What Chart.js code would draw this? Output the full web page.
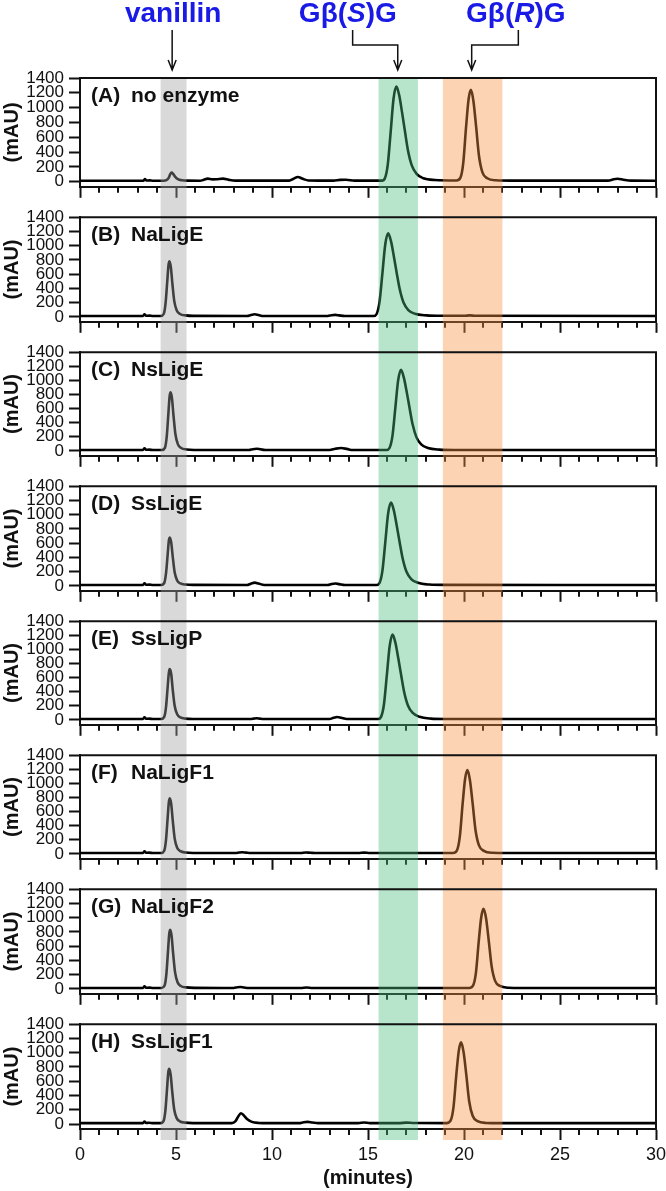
<!DOCTYPE html>
<html>
<head>
<meta charset="utf-8">
<script src="https://cdn.jsdelivr.net/npm/chart.js@4.4.1/dist/chart.umd.min.js"></script>
<style>
  body { margin: 0; background: #fff; }
  #wrap { position: relative; width: 666px; height: 1191px; overflow: hidden; }
  #wrap canvas { position: absolute; left: 0; }
</style>
</head>
<body>
<div id="wrap"></div>
<script>
// Panel letters and sample names
const panelLetters = ['A', 'B', 'C', 'D', 'E', 'F', 'G', 'H']
const panelNames = ['no enzyme', 'NaLigE', 'NsLigE', 'SsLigE', 'SsLigP', 'NaLigF1', 'NaLigF2', 'SsLigF1']

// Axis ticks
const yTicks = [0, 200, 400, 600, 800, 1000, 1200, 1400]
const xLabelTicks = [0, 5, 10, 15, 20, 25, 30]

// Retention windows (minutes): vanillin, G-beta(S)-G, G-beta(R)-G
const bandRanges = [[4.2, 5.55], [15.55, 17.6], [18.9, 22.0]]

// Header labels: text parts [text, italic], arrow tip and elbow start (minutes)
const headerParts = [
  [['vanillin', 0]],
  [['G\u03b2(', 0], ['S', 1], [')G', 0]],
  [['G\u03b2(', 0], ['R', 1], [')G', 0]],
]
const headerCenter = [4.85, 13.95, 22.7]
const arrowTip = [4.8, 16.55, 20.4]
const arrowElbow = [null, 14.2, 22.83]

// Chromatograms, [minutes, mAU]
const traceA = [
  [0, 12], [3.3, 12], [3.38, 36], [3.46, 15], [3.62, 17], [3.8, 12],
  [4.35, 12], [4.5, 20], [4.62, 50], [4.7, 100], [4.77, 122], [4.85, 105], [4.95, 68], [5.1, 33], [5.3, 19], [5.6, 13],
  [6.25, 12], [6.45, 25], [6.65, 40], [6.9, 30], [7.1, 32], [7.45, 40], [7.75, 24], [8.1, 13],
  [10.9, 13], [11.1, 35], [11.35, 62], [11.6, 38], [11.9, 16],
  [13.2, 13], [13.55, 24], [13.85, 25], [14.3, 14],
  [15.73, 13], [15.88, 45], [16.03, 230], [16.18, 670], [16.33, 1120], [16.48, 1285], [16.63, 1160], [16.78, 925],
  [16.93, 670], [17.08, 425], [17.28, 220], [17.53, 105], [17.88, 45], [18.48, 22],
  [19.61, 16], [19.81, 50], [19.96, 250], [20.11, 745], [20.24, 1115], [20.36, 1240], [20.49, 1090], [20.63, 745],
  [20.78, 350], [20.96, 125], [21.21, 45], [21.66, 18], [22.5, 13],
  [27.5, 13], [27.8, 32], [28.0, 38], [28.3, 25], [28.7, 13], [30, 12],
]
const traceB = [
  [0, 12], [3.28, 12], [3.36, 36], [3.44, 15], [3.6, 17], [3.8, 12],
  [4.2, 12], [4.36, 40], [4.46, 200], [4.54, 480], [4.61, 730], [4.66, 780], [4.73, 700], [4.81, 470], [4.91, 220],
  [5.04, 90], [5.21, 40], [5.5, 20], [5.9, 13],
  [8.7, 12], [8.9, 25], [9.1, 36], [9.3, 25], [9.55, 12],
  [12.9, 12], [13.1, 22], [13.3, 27], [13.5, 20], [13.8, 12],
  [15.3, 12], [15.45, 40], [15.6, 210], [15.75, 610], [15.9, 1020], [16.05, 1175], [16.2, 1060], [16.35, 845],
  [16.5, 610], [16.65, 390], [16.85, 200], [17.1, 95], [17.45, 42], [18.05, 20], [18.8, 14],
  [20.0, 14], [20.3, 20], [20.6, 14], [30, 12],
]
const traceC = [
  [0, 12], [3.28, 12], [3.36, 36], [3.44, 15], [3.6, 17], [3.8, 12],
  [4.27, 12], [4.42, 42], [4.52, 210], [4.6, 515], [4.67, 780], [4.72, 830], [4.79, 745], [4.87, 500], [4.97, 235],
  [5.1, 92], [5.27, 40], [5.55, 20], [5.95, 13],
  [8.8, 12], [9.0, 24], [9.2, 30], [9.4, 22], [9.65, 12],
  [13.0, 12], [13.3, 30], [13.6, 40], [13.9, 28], [14.2, 12],
  [15.97, 12], [16.12, 40], [16.27, 205], [16.42, 600], [16.57, 1000], [16.72, 1150], [16.87, 1035], [17.02, 830],
  [17.17, 600], [17.32, 380], [17.52, 195], [17.77, 92], [18.12, 40], [18.72, 18], [19.5, 13], [30, 12],
]
const traceD = [
  [0, 12], [3.28, 12], [3.36, 36], [3.44, 15], [3.6, 17], [3.8, 12],
  [4.23, 12], [4.38, 36], [4.48, 175], [4.56, 420], [4.63, 640], [4.68, 680], [4.75, 610], [4.83, 410], [4.93, 190],
  [5.06, 75], [5.23, 33], [5.5, 18], [5.9, 13],
  [8.7, 12], [8.9, 30], [9.1, 45], [9.3, 32], [9.6, 12],
  [12.9, 12], [13.1, 25], [13.3, 32], [13.5, 24], [13.8, 12],
  [15.45, 12], [15.6, 40], [15.75, 210], [15.9, 610], [16.05, 1020], [16.2, 1170], [16.35, 1055], [16.5, 840],
  [16.65, 610], [16.8, 390], [17.0, 200], [17.25, 95], [17.6, 42], [18.2, 18], [19.0, 13], [30, 12],
]
const traceE = [
  [0, 12], [3.28, 12], [3.36, 36], [3.44, 15], [3.6, 17], [3.8, 12],
  [4.23, 12], [4.38, 38], [4.48, 180], [4.56, 445], [4.63, 675], [4.68, 720], [4.75, 650], [4.83, 430], [4.93, 200],
  [5.06, 80], [5.23, 35], [5.5, 18], [5.9, 13],
  [8.9, 12], [9.05, 18], [9.2, 22], [9.35, 18], [9.55, 12],
  [13.0, 12], [13.2, 30], [13.4, 40], [13.6, 30], [13.9, 12],
  [15.53, 12], [15.68, 42], [15.83, 218], [15.98, 630], [16.13, 1050], [16.28, 1210], [16.43, 1090], [16.58, 870],
  [16.73, 630], [16.88, 400], [17.08, 205], [17.33, 98], [17.68, 43], [18.28, 18], [19.0, 13], [30, 12],
]
const traceF = [
  [0, 12], [3.28, 12], [3.36, 36], [3.44, 15], [3.6, 17], [3.8, 12],
  [4.23, 12], [4.38, 40], [4.48, 200], [4.56, 490], [4.63, 740], [4.68, 790], [4.75, 710], [4.83, 475], [4.93, 220],
  [5.06, 88], [5.23, 38], [5.5, 19], [5.9, 13],
  [8.1, 12], [8.3, 20], [8.45, 22], [8.65, 17], [8.9, 12],
  [11.5, 12], [11.75, 20], [12.0, 16], [12.3, 12],
  [14.5, 12], [14.8, 18], [15.1, 12],
  [19.43, 12], [19.63, 48], [19.78, 240], [19.93, 715], [20.06, 1070], [20.18, 1190], [20.31, 1045], [20.45, 715],
  [20.6, 335], [20.78, 120], [21.03, 43], [21.48, 15], [22.2, 12], [30, 12],
]
const traceG = [
  [0, 12], [3.28, 12], [3.36, 36], [3.44, 15], [3.6, 17], [3.8, 12],
  [4.25, 12], [4.4, 42], [4.5, 210], [4.58, 515], [4.65, 780], [4.7, 830], [4.77, 745], [4.85, 500], [4.95, 235],
  [5.08, 92], [5.25, 40], [5.53, 20], [5.95, 13],
  [8.0, 12], [8.2, 22], [8.35, 25], [8.55, 18], [8.8, 12],
  [11.5, 12], [11.8, 18], [12.1, 12],
  [20.27, 12], [20.47, 45], [20.62, 225], [20.77, 675], [20.9, 1010], [21.02, 1125], [21.15, 990], [21.29, 675],
  [21.44, 315], [21.62, 112], [21.87, 40], [22.32, 15], [23.0, 12], [30, 12],
]
const traceH = [
  [0, 12], [3.28, 12], [3.36, 36], [3.44, 15], [3.6, 17], [3.8, 12],
  [4.2, 12], [4.35, 40], [4.45, 195], [4.53, 480], [4.6, 730], [4.65, 775], [4.72, 695], [4.8, 465], [4.9, 215],
  [5.03, 86], [5.2, 38], [5.48, 19], [5.9, 13],
  [7.9, 12], [8.1, 40], [8.25, 110], [8.38, 150], [8.5, 130], [8.7, 70], [8.95, 30], [9.3, 15], [9.8, 12],
  [11.4, 12], [11.65, 25], [11.85, 30], [12.1, 22], [12.4, 12],
  [14.5, 12], [14.8, 22], [15.1, 13],
  [16.6, 13], [17.0, 20], [17.4, 14],
  [19.1, 12], [19.3, 46], [19.45, 230], [19.6, 690], [19.73, 1030], [19.85, 1145], [19.98, 1005], [20.12, 690],
  [20.27, 320], [20.45, 115], [20.7, 40], [21.15, 15], [21.8, 12], [30, 12],
]
const traces = [traceA, traceB, traceC, traceD, traceE, traceF, traceG, traceH]

// Styling
const ink = '#111'
const family = '"Liberation Sans", Arial, Helvetica, sans-serif'
const bandFill = ['rgba(160,160,160,0.4)', 'rgba(75,190,125,0.4)', 'rgba(250,148,65,0.4)']
const headerBlue = '#1a1ae6'
Chart.defaults.font.family = family
Chart.defaults.color = ink

// Layout: each panel gets its own canvas
const firstTop = 78
const pitch = 134.4
const plotHeight = 110
const tickLen = 11
const minorLen = 6
const lastIdx = panelLetters.length - 1
const panelTops = panelLetters.map((_, k) => Math.round(firstTop + pitch * k))
const canvasTops = panelTops.map((t, k) => k === 0 ? 0 : t - 10)

const isMajor = (v) => xLabelTicks.includes(v)

// Bands, frame, minor ticks, panel label, and header arrows
const decor = {
  id: 'decor',
  afterDraw(chart, args, opts) {
    const k = opts.index
    const {ctx, chartArea: a} = chart
    const x = chart.scales.x
    ctx.save()

    // minor x ticks are shorter than the major ones
    ctx.strokeStyle = ink
    ctx.lineWidth = 2
    ctx.beginPath()
    x.ticks.forEach((t) => {
      if (isMajor(t.value)) return
      let px = Math.round(x.getPixelForValue(t.value))
      ctx.moveTo(px, a.bottom)
      ctx.lineTo(px, a.bottom + minorLen)
    })
    ctx.stroke()

    // shaded retention windows, continuous across panels
    let top = k === 0 ? a.top : 0
    let bottom = k === lastIdx ? a.bottom + tickLen : chart.height
    bandRanges.forEach(([from, to], i) => {
      let x1 = x.getPixelForValue(from)
      let x2 = x.getPixelForValue(to)
      ctx.fillStyle = bandFill[i]
      ctx.fillRect(x1, top, x2 - x1, bottom - top)
    })

    // top and right frame lines
    ctx.beginPath()
    ctx.moveTo(a.left - 1, a.top)
    ctx.lineTo(a.right, a.top)
    ctx.lineTo(a.right, a.bottom)
    ctx.stroke()

    // panel label
    ctx.fillStyle = ink
    ctx.font = 'bold 21px ' + family
    ctx.textBaseline = 'middle'
    ctx.textAlign = 'left'
    ctx.fillText('(' + panelLetters[k] + ')', a.left + 11, a.top + 18)
    ctx.fillText(panelNames[k], a.left + 51, a.top + 18)

    // header labels with arrows
    if (k === 0) {
      ctx.textBaseline = 'alphabetic'
      ctx.fillStyle = headerBlue
      headerParts.forEach((parts, i) => {
        let widths = parts.map(([t, it]) => {
          ctx.font = (it ? 'italic ' : '') + 'bold 28px ' + family
          return ctx.measureText(t).width
        })
        let total = widths.reduce((acc, cur) => acc + cur)
        let cx = x.getPixelForValue(headerCenter[i]) - total / 2
        parts.forEach(([t, it], j) => {
          ctx.font = (it ? 'italic ' : '') + 'bold 28px ' + family
          ctx.fillText(t, cx, 22)
          cx += widths[j]
        })
      })

      ctx.lineWidth = 1.5
      arrowTip.forEach((tip, i) => {
        let tx = x.getPixelForValue(tip)
        ctx.beginPath()
        if (arrowElbow[i] === null) {
          ctx.moveTo(tx, 30)
        } else {
          let ex = x.getPixelForValue(arrowElbow[i])
          ctx.moveTo(ex, 30)
          ctx.lineTo(ex, 45)
          ctx.lineTo(tx, 45)
        }
        ctx.lineTo(tx, 70)
        ctx.moveTo(tx - 4, 60)
        ctx.lineTo(tx, 70)
        ctx.lineTo(tx + 4, 60)
        ctx.stroke()
      })
    }
    ctx.restore()
  }
}

const wrap = document.getElementById('wrap')

traces.forEach((trace, k) => {
  let isLast = k === lastIdx
  let h = isLast ? 1191 - canvasTops[k] : canvasTops[k + 1] - canvasTops[k]
  let padTop = panelTops[k] - canvasTops[k]
  let axisH = isLast ? 1191 - panelTops[k] - plotHeight : tickLen
  let padBottom = h - padTop - plotHeight - axisH

  let canvas = document.createElement('canvas')
  canvas.width = 666
  canvas.height = h
  canvas.style.top = canvasTops[k] + 'px'
  wrap.appendChild(canvas)

  new Chart(canvas, {
    type: 'line',
    data: {
      datasets: [{
        data: trace.map(([t, v]) => ({x: t, y: v})),
        borderColor: '#000',
        borderWidth: 2.6,
        pointRadius: 0,
        fill: false,
        cubicInterpolationMode: 'monotone',
      }]
    },
    options: {
      responsive: false,
      animation: false,
      devicePixelRatio: 1,
      layout: {padding: {top: padTop, bottom: padBottom, left: 0, right: 10}},
      plugins: {
        legend: {display: false},
        tooltip: {enabled: false},
        decor: {index: k},
      },
      scales: {
        x: {
          type: 'linear',
          min: 0,
          max: 30,
          afterFit: (s) => {
            s.height = axisH
            s.paddingLeft = 0
            s.paddingRight = 0
          },
          ticks: {
            display: isLast,
            stepSize: 1,
            autoSkip: false,
            maxRotation: 0,
            padding: 4,
            font: {size: 18},
            callback: (v) => isMajor(v) ? String(v) : '',
          },
          grid: {
            drawOnChartArea: false,
            tickLength: tickLen,
            tickWidth: 2,
            tickColor: (ctx) => ctx.tick && isMajor(ctx.tick.value) ? ink : 'rgba(0,0,0,0)',
          },
          border: {display: true, width: 2, color: ink},
          title: {
            display: isLast,
            text: '(minutes)',
            font: {size: 20, weight: 'bold'},
            padding: {top: 0, bottom: 1},
          },
        },
        y: {
          min: -70,
          max: 1400,
          afterBuildTicks: (s) => { s.ticks = yTicks.map((v) => ({value: v})) },
          afterFit: (s) => { s.width = 80 },
          ticks: {
            padding: 5,
            autoSkip: false,
            font: {size: 17},
            callback: (v) => String(v),
          },
          grid: {
            drawOnChartArea: false,
            tickLength: tickLen,
            tickWidth: 2,
            tickColor: ink,
          },
          border: {display: true, width: 2, color: ink},
          title: {
            display: true,
            text: '(mAU)',
            font: {size: 20, weight: 'bold'},
            padding: {top: 0, bottom: 0},
          },
        },
      },
    },
    plugins: [decor],
  })
})
</script>
</body>
</html>
